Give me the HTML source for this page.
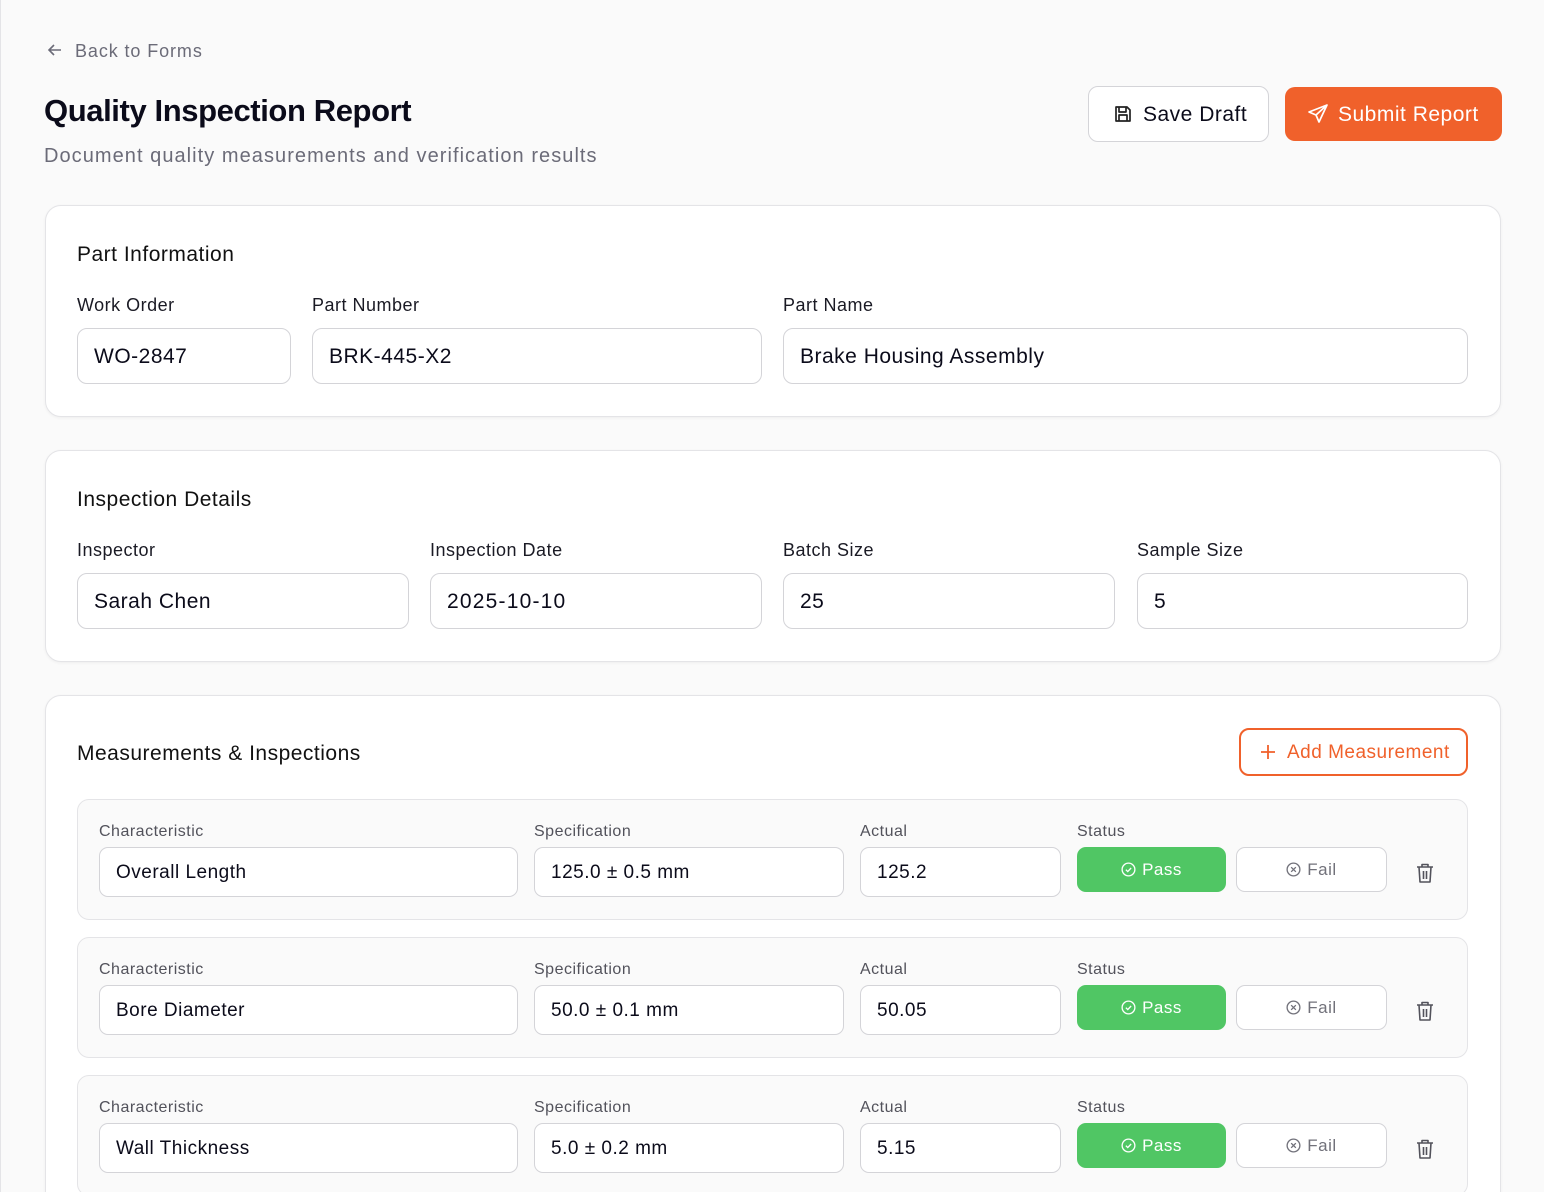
<!DOCTYPE html>
<html style="overflow:hidden;height:1192px"><head><meta charset="utf-8"><style>
*{box-sizing:border-box;margin:0;padding:0}
html,body{overflow:hidden}
body{width:1544px;height:1192px;overflow:hidden;background:#fafafa;font-family:"Liberation Sans",sans-serif;color:#0b0b1a;position:relative;letter-spacing:0.5px}
.frame{position:absolute;left:0;top:0;width:1544px;height:1192px;border-left:1px solid #e4e4e7;border-top-right-radius:24px}
.abs{position:absolute}
.card{position:absolute;left:45px;width:1456px;background:#fff;border:1px solid #e4e4e7;border-radius:16px;box-shadow:0 1px 3px rgba(0,0,0,.05)}
.ctitle{position:absolute;left:31px;font-size:21px;color:#111}
.lbl{position:absolute;font-size:18px;color:#1a1a24}
.inp{position:absolute;height:56px;border:1px solid #d4d4d8;border-radius:10px;background:#fff;font-size:21px;padding-left:16px;line-height:55px;color:#0b0b1a}
.row{position:absolute;left:77px;width:1391px;height:121px;background:#fafafa;border:1px solid #e4e4e7;border-radius:12px}
.rl{position:absolute;top:23px;font-size:16px;color:#52525b}
.ri{position:absolute;top:47px;height:50px;border:1px solid #d4d4d8;border-radius:9px;background:#fff;font-size:19px;padding-left:16px;line-height:49px}
.pass{position:absolute;left:999px;top:47px;width:149px;height:45px;background:#50c664;border-radius:9px;color:#fff;font-size:17px;text-align:center;line-height:45px}
.fail{position:absolute;left:1158px;top:47px;width:151px;height:45px;background:#fff;border:1px solid #d4d4d8;border-radius:9px;color:#71717a;font-size:17px;text-align:center;line-height:43px}
.trash{position:absolute;left:1338px;top:63px}
</style></head><body>
<div class="frame"></div>
<div class="abs" style="left:45px;top:40px;font-size:18px;color:#6b6b78;letter-spacing:0.9px">
<svg width="20" height="20" viewBox="0 0 20 20" style="vertical-align:-3px;margin-right:10px"><path d="M16 10H4M9 5L4 10L9 15" stroke="#6b6b78" stroke-width="1.6" fill="none"/></svg>Back to Forms</div>
<div class="abs" style="left:44px;top:93px;font-size:31px;font-weight:bold;letter-spacing:-0.4px">Quality Inspection Report</div>
<div class="abs" style="left:44px;top:145px;font-size:20px;color:#6b6b78;letter-spacing:1.05px">Document quality measurements and verification results</div>
<div class="abs" style="left:1088px;top:86px;width:181px;height:56px;border:1px solid #d4d4d8;border-radius:10px;background:#fff;font-size:21px;line-height:55px;padding-left:24px">
<svg width="20" height="20" viewBox="0 0 20 20" style="vertical-align:-3px;margin-right:10px"><path d="M3 3h11l3 3v11H3z M6 3v5h7V3 M6 17v-6h8v6" stroke="#222" stroke-width="1.7" fill="none" stroke-linejoin="round"/></svg>Save Draft</div>
<div class="abs" style="left:1285px;top:87px;width:217px;height:54px;background:#f0612b;border-radius:10px;color:#fff;font-size:21px;line-height:55px;padding-left:22px">
<svg width="22" height="22" viewBox="0 0 22 22" style="vertical-align:-4px;margin-right:9px"><path d="M20 2L2 9l7 3 3 7z M20 2L9 12" stroke="#fff" stroke-width="1.7" fill="none" stroke-linejoin="round"/></svg>Submit Report</div>

<div class="card" style="top:205px;height:212px">
<div class="ctitle" style="top:37px">Part Information</div>
<div class="lbl" style="left:31px;top:89px">Work Order</div>
<div class="lbl" style="left:266px;top:89px">Part Number</div>
<div class="lbl" style="left:737px;top:89px">Part Name</div>
<div class="inp" style="left:31px;top:122px;width:214px">WO-2847</div>
<div class="inp" style="left:266px;top:122px;width:450px">BRK-445-X2</div>
<div class="inp" style="left:737px;top:122px;width:685px">Brake Housing Assembly</div>
</div>

<div class="card" style="top:450px;height:212px">
<div class="ctitle" style="top:37px">Inspection Details</div>
<div class="lbl" style="left:31px;top:89px">Inspector</div>
<div class="lbl" style="left:384px;top:89px">Inspection Date</div>
<div class="lbl" style="left:737px;top:89px">Batch Size</div>
<div class="lbl" style="left:1091px;top:89px">Sample Size</div>
<div class="inp" style="left:31px;top:122px;width:332px">Sarah Chen</div>
<div class="inp" style="left:384px;top:122px;width:332px;letter-spacing:1.2px">2025-10-10</div>
<div class="inp" style="left:737px;top:122px;width:332px">25</div>
<div class="inp" style="left:1091px;top:122px;width:331px">5</div>
</div>

<div class="card" style="top:695px;height:520px">
<div class="ctitle" style="top:46px">Measurements &amp; Inspections</div>
<div class="abs" style="left:1193px;top:32px;width:229px;height:48px;border:2px solid #f0612b;border-radius:10px;color:#f0612b;font-size:19px;line-height:45px;padding-left:18px">
<svg width="18" height="18" viewBox="0 0 18 18" style="vertical-align:-3px;margin-right:10px"><path d="M9 2v14M2 9h14" stroke="#f0612b" stroke-width="1.8"/></svg>Add Measurement</div>
</div>

<div id="rows"></div>
<script>
const characteristics=["Overall Length","Bore Diameter","Wall Thickness"];
const specifications=["125.0 ± 0.5 mm","50.0 ± 0.1 mm","5.0 ± 0.2 mm"];
const actuals=["125.2","50.05","5.15"];
const rows=document.getElementById('rows');
const tops=[799,937,1075];
characteristics.forEach((c,i)=>{
 const r=document.createElement('div');
 r.className='row';r.style.top=tops[i]+'px';
 
 
 r.innerHTML=`<div class="rl" style="left:21px">Characteristic</div>
<div class="rl" style="left:456px">Specification</div>
<div class="rl" style="left:782px">Actual</div>
<div class="rl" style="left:999px">Status</div>
<div class="ri" style="left:21px;width:419px">${c}</div>
<div class="ri" style="left:456px;width:310px">${specifications[i]}</div>
<div class="ri" style="left:782px;width:201px">${actuals[i]}</div>
<div class="pass"><svg width="15" height="15" viewBox="0 0 16 16" style="vertical-align:-2px;margin-right:6px"><circle cx="8" cy="8" r="6.8" stroke="#fff" stroke-width="1.4" fill="none"/><path d="M5.2 8.2l2 2 3.6-3.8" stroke="#fff" stroke-width="1.4" fill="none"/></svg>Pass</div>
<div class="fail"><svg width="15" height="15" viewBox="0 0 16 16" style="vertical-align:-2px;margin-right:6px"><circle cx="8" cy="8" r="6.8" stroke="#71717a" stroke-width="1.4" fill="none"/><path d="M5.5 5.5l5 5M10.5 5.5l-5 5" stroke="#71717a" stroke-width="1.4"/></svg>Fail</div>
<svg class="trash" width="18" height="20" viewBox="0 0 18 20"><path d="M1 4h16M6 4V1.5h6V4M3 4l1 15h10l1-15M7.5 8v8M10.5 8v8" stroke="#52525b" stroke-width="1.6" fill="none" stroke-linejoin="round"/></svg>`;
 rows.appendChild(r);
});
</script>
</body></html>
